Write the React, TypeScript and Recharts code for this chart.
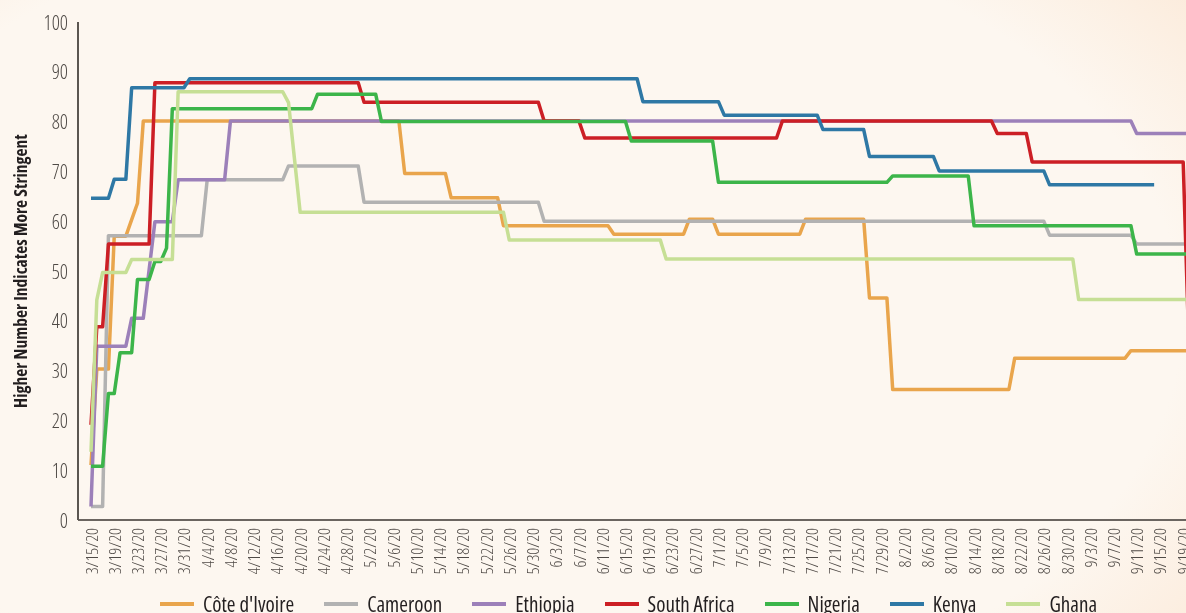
import React from 'react';
import { LineChart, Line, XAxis, YAxis, Legend } from 'recharts';

// Tick labels, one every 4 days starting 3/15/20
const tickLabels = [
  '3/15/20', '3/19/20', '3/23/20', '3/27/20', '3/31/20', '4/4/20', '4/8/20', '4/12/20',
  '4/16/20', '4/20/20', '4/24/20', '4/28/20', '5/2/20', '5/6/20', '5/10/20', '5/14/20',
  '5/18/20', '5/22/20', '5/26/20', '5/30/20', '6/3/20', '6/7/20', '6/11/20', '6/15/20',
  '6/19/20', '6/23/20', '6/27/20', '7/1/20', '7/5/20', '7/9/20', '7/13/20', '7/17/20',
  '7/21/20', '7/25/20', '7/29/20', '8/2/20', '8/6/20', '8/10/20', '8/14/20', '8/18/20',
  '8/22/20', '8/26/20', '8/30/20', '9/3/20', '9/7/20', '9/11/20', '9/15/20', '9/19/20',
];

const yTicks = [0, 10, 20, 30, 40, 50, 60, 70, 80, 90, 100];

// Daily values, 3/15/20 .. 9/20/20 (10 days per row)
const coteDIvoire = [
  11.0, 30.3, 30.3, 30.3, 57.0, 57.0, 57.0, 60.3, 63.6, 80.1,
  80.1, 80.1, 80.1, 80.1, 80.1, 80.1, 80.1, 80.1, 80.1, 80.1,
  80.1, 80.1, 80.1, 80.1, 80.1, 80.1, 80.1, 80.1, 80.1, 80.1,
  80.1, 80.1, 80.1, 80.1, 80.1, 80.1, 80.1, 80.1, 80.1, 80.1,
  80.1, 80.1, 80.1, 80.1, 80.1, 80.1, 80.1, 80.1, 80.1, 80.1,
  80.1, 80.1, 80.1, 80.1, 69.6, 69.6, 69.6, 69.6, 69.6, 69.6,
  69.6, 69.6, 64.7, 64.7, 64.7, 64.7, 64.7, 64.7, 64.7, 64.7,
  64.7, 59.1, 59.1, 59.1, 59.1, 59.1, 59.1, 59.1, 59.1, 59.1,
  59.1, 59.1, 59.1, 59.1, 59.1, 59.1, 59.1, 59.1, 59.1, 59.1,
  57.4, 57.4, 57.4, 57.4, 57.4, 57.4, 57.4, 57.4, 57.4, 57.4,
  57.4, 57.4, 57.4, 60.4, 60.4, 60.4, 60.4, 60.4, 57.4, 57.4,
  57.4, 57.4, 57.4, 57.4, 57.4, 57.4, 57.4, 57.4, 57.4, 57.4,
  57.4, 57.4, 57.4, 60.4, 60.4, 60.4, 60.4, 60.4, 60.4, 60.4,
  60.4, 60.4, 60.4, 60.4, 44.6, 44.6, 44.6, 44.6, 26.2, 26.2,
  26.2, 26.2, 26.2, 26.2, 26.2, 26.2, 26.2, 26.2, 26.2, 26.2,
  26.2, 26.2, 26.2, 26.2, 26.2, 26.2, 26.2, 26.2, 26.2, 32.5,
  32.5, 32.5, 32.5, 32.5, 32.5, 32.5, 32.5, 32.5, 32.5, 32.5,
  32.5, 32.5, 32.5, 32.5, 32.5, 32.5, 32.5, 32.5, 32.5, 34.0,
  34.0, 34.0, 34.0, 34.0, 34.0, 34.0, 34.0, 34.0, 34.0, 34.0,
];

const cameroon = [
  2.7, 2.7, 2.7, 57.1, 57.1, 57.1, 57.1, 57.1, 57.1, 57.1,
  57.1, 57.1, 57.1, 57.1, 57.1, 57.1, 57.1, 57.1, 57.1, 57.1,
  68.3, 68.3, 68.3, 68.3, 68.3, 68.3, 68.3, 68.3, 68.3, 68.3,
  68.3, 68.3, 68.3, 68.3, 71.1, 71.1, 71.1, 71.1, 71.1, 71.1,
  71.1, 71.1, 71.1, 71.1, 71.1, 71.1, 71.1, 63.8, 63.8, 63.8,
  63.8, 63.8, 63.8, 63.8, 63.8, 63.8, 63.8, 63.8, 63.8, 63.8,
  63.8, 63.8, 63.8, 63.8, 63.8, 63.8, 63.8, 63.8, 63.8, 63.8,
  63.8, 63.8, 63.8, 63.8, 63.8, 63.8, 63.8, 63.8, 60.0, 60.0,
  60.0, 60.0, 60.0, 60.0, 60.0, 60.0, 60.0, 60.0, 60.0, 60.0,
  60.0, 60.0, 60.0, 60.0, 60.0, 60.0, 60.0, 60.0, 60.0, 60.0,
  60.0, 60.0, 60.0, 60.0, 60.0, 60.0, 60.0, 60.0, 60.0, 60.0,
  60.0, 60.0, 60.0, 60.0, 60.0, 60.0, 60.0, 60.0, 60.0, 60.0,
  60.0, 60.0, 60.0, 60.0, 60.0, 60.0, 60.0, 60.0, 60.0, 60.0,
  60.0, 60.0, 60.0, 60.0, 60.0, 60.0, 60.0, 60.0, 60.0, 60.0,
  60.0, 60.0, 60.0, 60.0, 60.0, 60.0, 60.0, 60.0, 60.0, 60.0,
  60.0, 60.0, 60.0, 60.0, 60.0, 60.0, 60.0, 60.0, 60.0, 60.0,
  60.0, 60.0, 60.0, 60.0, 60.0, 57.2, 57.2, 57.2, 57.2, 57.2,
  57.2, 57.2, 57.2, 57.2, 57.2, 57.2, 57.2, 57.2, 57.2, 57.2,
  55.4, 55.4, 55.4, 55.4, 55.4, 55.4, 55.4, 55.4, 55.4, 55.4,
];

const ethiopia = [
  2.7, 34.9, 34.9, 34.9, 34.9, 34.9, 34.9, 40.5, 40.5, 40.5,
  50.2, 59.9, 59.9, 59.9, 59.9, 68.3, 68.3, 68.3, 68.3, 68.3,
  68.3, 68.3, 68.3, 68.3, 80.1, 80.1, 80.1, 80.1, 80.1, 80.1,
  80.1, 80.1, 80.1, 80.1, 80.1, 80.1, 80.1, 80.1, 80.1, 80.1,
  80.1, 80.1, 80.1, 80.1, 80.1, 80.1, 80.1, 80.1, 80.1, 80.1,
  80.1, 80.1, 80.1, 80.1, 80.1, 80.1, 80.1, 80.1, 80.1, 80.1,
  80.1, 80.1, 80.1, 80.1, 80.1, 80.1, 80.1, 80.1, 80.1, 80.1,
  80.1, 80.1, 80.1, 80.1, 80.1, 80.1, 80.1, 80.1, 80.1, 80.1,
  80.1, 80.1, 80.1, 80.1, 80.1, 80.1, 80.1, 80.1, 80.1, 80.1,
  80.1, 80.1, 80.1, 80.1, 80.1, 80.1, 80.1, 80.1, 80.1, 80.1,
  80.1, 80.1, 80.1, 80.1, 80.1, 80.1, 80.1, 80.1, 80.1, 80.1,
  80.1, 80.1, 80.1, 80.1, 80.1, 80.1, 80.1, 80.1, 80.1, 80.1,
  80.1, 80.1, 80.1, 80.1, 80.1, 80.1, 80.1, 80.1, 80.1, 80.1,
  80.1, 80.1, 80.1, 80.1, 80.1, 80.1, 80.1, 80.1, 80.1, 80.1,
  80.1, 80.1, 80.1, 80.1, 80.1, 80.1, 80.1, 80.1, 80.1, 80.1,
  80.1, 80.1, 80.1, 80.1, 80.1, 80.1, 80.1, 80.1, 80.1, 80.1,
  80.1, 80.1, 80.1, 80.1, 80.1, 80.1, 80.1, 80.1, 80.1, 80.1,
  80.1, 80.1, 80.1, 80.1, 80.1, 80.1, 80.1, 80.1, 80.1, 80.1,
  77.6, 77.6, 77.6, 77.6, 77.6, 77.6, 77.6, 77.6, 77.6, 77.6,
];

const southAfrica = [
  19.1, 38.8, 38.8, 55.4, 55.4, 55.4, 55.4, 55.4, 55.4, 55.4,
  55.4, 87.8, 87.8, 87.8, 87.8, 87.8, 87.8, 87.8, 87.8, 87.8,
  87.8, 87.8, 87.8, 87.8, 87.8, 87.8, 87.8, 87.8, 87.8, 87.8,
  87.8, 87.8, 87.8, 87.8, 87.8, 87.8, 87.8, 87.8, 87.8, 87.8,
  87.8, 87.8, 87.8, 87.8, 87.8, 87.8, 87.8, 83.9, 83.9, 83.9,
  83.9, 83.9, 83.9, 83.9, 83.9, 83.9, 83.9, 83.9, 83.9, 83.9,
  83.9, 83.9, 83.9, 83.9, 83.9, 83.9, 83.9, 83.9, 83.9, 83.9,
  83.9, 83.9, 83.9, 83.9, 83.9, 83.9, 83.9, 83.9, 80.1, 80.1,
  80.1, 80.1, 80.1, 80.1, 80.1, 76.7, 76.7, 76.7, 76.7, 76.7,
  76.7, 76.7, 76.7, 76.7, 76.7, 76.7, 76.7, 76.7, 76.7, 76.7,
  76.7, 76.7, 76.7, 76.7, 76.7, 76.7, 76.7, 76.7, 76.7, 76.7,
  76.7, 76.7, 76.7, 76.7, 76.7, 76.7, 76.7, 76.7, 76.7, 80.1,
  80.1, 80.1, 80.1, 80.1, 80.1, 80.1, 80.1, 80.1, 80.1, 80.1,
  80.1, 80.1, 80.1, 80.1, 80.1, 80.1, 80.1, 80.1, 80.1, 80.1,
  80.1, 80.1, 80.1, 80.1, 80.1, 80.1, 80.1, 80.1, 80.1, 80.1,
  80.1, 80.1, 80.1, 80.1, 80.1, 80.1, 77.6, 77.6, 77.6, 77.6,
  77.6, 77.6, 71.9, 71.9, 71.9, 71.9, 71.9, 71.9, 71.9, 71.9,
  71.9, 71.9, 71.9, 71.9, 71.9, 71.9, 71.9, 71.9, 71.9, 71.9,
  71.9, 71.9, 71.9, 71.9, 71.9, 71.9, 71.9, 71.9, 71.9, 34.0,
];

const nigeria = [
  10.8, 10.8, 10.8, 25.4, 25.4, 33.6, 33.6, 33.6, 48.3, 48.3,
  48.3, 51.9, 51.9, 54.6, 82.6, 82.6, 82.6, 82.6, 82.6, 82.6,
  82.6, 82.6, 82.6, 82.6, 82.6, 82.6, 82.6, 82.6, 82.6, 82.6,
  82.6, 82.6, 82.6, 82.6, 82.6, 82.6, 82.6, 82.6, 82.6, 85.5,
  85.5, 85.5, 85.5, 85.5, 85.5, 85.5, 85.5, 85.5, 85.5, 85.5,
  80.0, 80.0, 80.0, 80.0, 80.0, 80.0, 80.0, 80.0, 80.0, 80.0,
  80.0, 80.0, 80.0, 80.0, 80.0, 80.0, 80.0, 80.0, 80.0, 80.0,
  80.0, 80.0, 80.0, 80.0, 80.0, 80.0, 80.0, 80.0, 80.0, 80.0,
  80.0, 80.0, 80.0, 80.0, 80.0, 80.0, 80.0, 80.0, 80.0, 80.0,
  80.0, 80.0, 80.0, 76.1, 76.1, 76.1, 76.1, 76.1, 76.1, 76.1,
  76.1, 76.1, 76.1, 76.1, 76.1, 76.1, 76.1, 76.1, 67.8, 67.8,
  67.8, 67.8, 67.8, 67.8, 67.8, 67.8, 67.8, 67.8, 67.8, 67.8,
  67.8, 67.8, 67.8, 67.8, 67.8, 67.8, 67.8, 67.8, 67.8, 67.8,
  67.8, 67.8, 67.8, 67.8, 67.8, 67.8, 67.8, 67.8, 69.1, 69.1,
  69.1, 69.1, 69.1, 69.1, 69.1, 69.1, 69.1, 69.1, 69.1, 69.1,
  69.1, 69.1, 59.1, 59.1, 59.1, 59.1, 59.1, 59.1, 59.1, 59.1,
  59.1, 59.1, 59.1, 59.1, 59.1, 59.1, 59.1, 59.1, 59.1, 59.1,
  59.1, 59.1, 59.1, 59.1, 59.1, 59.1, 59.1, 59.1, 59.1, 59.1,
  53.4, 53.4, 53.4, 53.4, 53.4, 53.4, 53.4, 53.4, 53.4, 53.4,
];

const kenya = [
  64.6, 64.6, 64.6, 64.6, 68.4, 68.4, 68.4, 86.8, 86.8, 86.8,
  86.8, 86.8, 86.8, 86.8, 86.8, 86.8, 86.8, 88.6, 88.6, 88.6,
  88.6, 88.6, 88.6, 88.6, 88.6, 88.6, 88.6, 88.6, 88.6, 88.6,
  88.6, 88.6, 88.6, 88.6, 88.6, 88.6, 88.6, 88.6, 88.6, 88.6,
  88.6, 88.6, 88.6, 88.6, 88.6, 88.6, 88.6, 88.6, 88.6, 88.6,
  88.6, 88.6, 88.6, 88.6, 88.6, 88.6, 88.6, 88.6, 88.6, 88.6,
  88.6, 88.6, 88.6, 88.6, 88.6, 88.6, 88.6, 88.6, 88.6, 88.6,
  88.6, 88.6, 88.6, 88.6, 88.6, 88.6, 88.6, 88.6, 88.6, 88.6,
  88.6, 88.6, 88.6, 88.6, 88.6, 88.6, 88.6, 88.6, 88.6, 88.6,
  88.6, 88.6, 88.6, 88.6, 88.6, 84.0, 84.0, 84.0, 84.0, 84.0,
  84.0, 84.0, 84.0, 84.0, 84.0, 84.0, 84.0, 84.0, 84.0, 81.3,
  81.3, 81.3, 81.3, 81.3, 81.3, 81.3, 81.3, 81.3, 81.3, 81.3,
  81.3, 81.3, 81.3, 81.3, 81.3, 81.3, 78.4, 78.4, 78.4, 78.4,
  78.4, 78.4, 78.4, 78.4, 73.0, 73.0, 73.0, 73.0, 73.0, 73.0,
  73.0, 73.0, 73.0, 73.0, 73.0, 73.0, 70.1, 70.1, 70.1, 70.1,
  70.1, 70.1, 70.1, 70.1, 70.1, 70.1, 70.1, 70.1, 70.1, 70.1,
  70.1, 70.1, 70.1, 70.1, 70.1, 67.3, 67.3, 67.3, 67.3, 67.3,
  67.3, 67.3, 67.3, 67.3, 67.3, 67.3, 67.3, 67.3, 67.3, 67.3,
  67.3, 67.3, 67.3, 67.3, null, null, null, null, null, null,
];

const ghana = [
  13.7, 44.2, 49.7, 49.7, 49.7, 49.7, 49.7, 52.3, 52.3, 52.3,
  52.3, 52.3, 52.3, 52.3, 52.3, 86.0, 86.0, 86.0, 86.0, 86.0,
  86.0, 86.0, 86.0, 86.0, 86.0, 86.0, 86.0, 86.0, 86.0, 86.0,
  86.0, 86.0, 86.0, 86.0, 83.8, 72.8, 61.8, 61.8, 61.8, 61.8,
  61.8, 61.8, 61.8, 61.8, 61.8, 61.8, 61.8, 61.8, 61.8, 61.8,
  61.8, 61.8, 61.8, 61.8, 61.8, 61.8, 61.8, 61.8, 61.8, 61.8,
  61.8, 61.8, 61.8, 61.8, 61.8, 61.8, 61.8, 61.8, 61.8, 61.8,
  61.8, 61.8, 56.2, 56.2, 56.2, 56.2, 56.2, 56.2, 56.2, 56.2,
  56.2, 56.2, 56.2, 56.2, 56.2, 56.2, 56.2, 56.2, 56.2, 56.2,
  56.2, 56.2, 56.2, 56.2, 56.2, 56.2, 56.2, 56.2, 56.2, 52.4,
  52.4, 52.4, 52.4, 52.4, 52.4, 52.4, 52.4, 52.4, 52.4, 52.4,
  52.4, 52.4, 52.4, 52.4, 52.4, 52.4, 52.4, 52.4, 52.4, 52.4,
  52.4, 52.4, 52.4, 52.4, 52.4, 52.4, 52.4, 52.4, 52.4, 52.4,
  52.4, 52.4, 52.4, 52.4, 52.4, 52.4, 52.4, 52.4, 52.4, 52.4,
  52.4, 52.4, 52.4, 52.4, 52.4, 52.4, 52.4, 52.4, 52.4, 52.4,
  52.4, 52.4, 52.4, 52.4, 52.4, 52.4, 52.4, 52.4, 52.4, 52.4,
  52.4, 52.4, 52.4, 52.4, 52.4, 52.4, 52.4, 52.4, 52.4, 52.4,
  44.3, 44.3, 44.3, 44.3, 44.3, 44.3, 44.3, 44.3, 44.3, 44.3,
  44.3, 44.3, 44.3, 44.3, 44.3, 44.3, 44.3, 44.3, 44.3, 44.3,
];

const seriesList = [
  { key: 'civ', name: "Côte d'Ivoire", color: '#E9A54C', values: coteDIvoire },
  { key: 'cmr', name: 'Cameroon', color: '#B2B2B2', values: cameroon },
  { key: 'eth', name: 'Ethiopia', color: '#9C80B9', values: ethiopia },
  { key: 'zaf', name: 'South Africa', color: '#CC1F25', values: southAfrica },
  { key: 'nga', name: 'Nigeria', color: '#3CB54A', values: nigeria },
  { key: 'ken', name: 'Kenya', color: '#2E78A5', values: kenya },
  { key: 'gha', name: 'Ghana', color: '#C6DF95', values: ghana },
];

const rows = coteDIvoire.map((_, i) => {
  const r: Record<string, number | null> = { day: i };
  seriesList.forEach((s) => {
    r[s.key] = s.values[i];
  });
  return r;
});

const tickDays = tickLabels.map((_, i) => i * 4);

const FONT = "'Open Sans', 'Noto Sans', sans-serif";

const XTick = (props: any) => {
  const { x, y, payload } = props;
  const label = tickLabels[Math.round(payload.value / 4)];
  return (
    <text
      transform={`translate(${x},${y}) rotate(-90)`}
      textAnchor="end"
      dominantBaseline="central"
      style={{ fontFamily: FONT, fontSize: 17, fontStretch: 'condensed', fontWeight: 300 }}
      fill="#4f4a46"
    >
      {label}
    </text>
  );
};

const YTick = (props: any) => {
  const { x, y, payload } = props;
  return (
    <text
      x={x}
      y={y}
      textAnchor="end"
      dominantBaseline="central"
      style={{ fontFamily: FONT, fontSize: 20, fontStretch: 'condensed', fontWeight: 300 }}
      fill="#4f4a46"
    >
      {payload.value}
    </text>
  );
};

const YTitle = (props: any) => {
  const vb = props.viewBox || { y: 22, height: 498 };
  const cx = 20;
  const cy = vb.y + vb.height / 2;
  return (
    <text
      x={cx}
      y={cy}
      transform={`rotate(-90, ${cx}, ${cy})`}
      textAnchor="middle"
      dominantBaseline="central"
      style={{ fontFamily: FONT, fontSize: 17.5, fontStretch: 'condensed', fontWeight: 700 }}
      fill="#231f20"
    >
      Higher Number Indicates More Stringent
    </text>
  );
};

const LegendContent = (props: any) => {
  const payload: any[] = props.payload || [];
  const ordered = seriesList
    .map((s) => payload.find((p) => p.dataKey === s.key || p.value === s.name))
    .filter(Boolean);
  return (
    <div
      style={{
        display: 'flex',
        alignItems: 'center',
        height: 24,
        fontFamily: FONT,
        fontStretch: 'condensed',
        fontSize: 21,
        color: '#231f20',
        whiteSpace: 'nowrap',
      }}
    >
      {ordered.map((p: any) => (
        <div key={p.value} style={{ display: 'flex', alignItems: 'center', marginRight: 30 }}>
          <span style={{ display: 'inline-block', width: 34, height: 4, background: p.color, marginRight: 9 }} />
          <span>{p.value}</span>
        </div>
      ))}
    </div>
  );
};

export default function App() {
  return (
    <div
      style={{
        position: 'fixed',
        left: 0,
        top: 0,
        width: 1186,
        height: 613,
        overflow: 'hidden',
        background:
          'radial-gradient(ellipse 80% 95% at 42% 52%, #fdf7f0 72%, #fbe7d4 100%)',
      }}
    >
      <LineChart
        width={1192}
        height={616}
        data={rows}
        margin={{ top: 22, right: 3, bottom: 0, left: 0 }}
      >
        <XAxis
          dataKey="day"
          type="number"
          domain={[0, 189]}
          ticks={tickDays}
          interval={0}
          padding={{ left: 13, right: 0 }}
          tickLine={false}
          axisLine={{ stroke: '#6b6560', strokeWidth: 2 }}
          tick={<XTick />}
          height={72}
        />
        <YAxis
          domain={[0, 100]}
          ticks={yTicks}
          interval={0}
          width={78}
          tickLine={false}
          tickMargin={4}
          axisLine={{ stroke: '#5b5651', strokeWidth: 2 }}
          tick={<YTick />}
          label={<YTitle />}
        />
        <Legend
          verticalAlign="bottom"
          height={24}
          itemSorter={null as any}
          content={<LegendContent />}
          wrapperStyle={{ left: 160, bottom: 0, width: 1000, height: 24 }}
        />
        {seriesList.map((s) => (
          <Line
            key={s.key}
            type="linear"
            dataKey={s.key}
            name={s.name}
            stroke={s.color}
            strokeWidth={3.5}
            strokeLinejoin="round"
            dot={false}
            activeDot={false}
            connectNulls={false}
            isAnimationActive={false}
          />
        ))}
      </LineChart>
    </div>
  );
}
